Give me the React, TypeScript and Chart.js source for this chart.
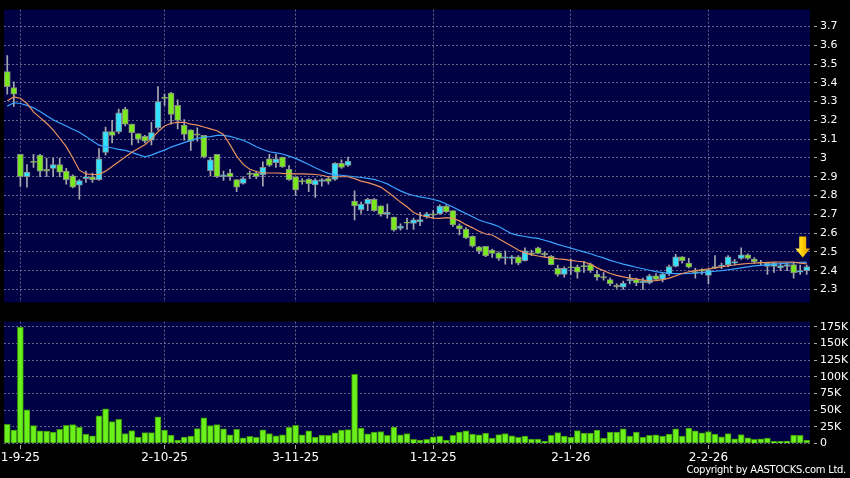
import React, { useEffect, useRef } from "react";
import { Chart, registerables } from "chart.js";
Chart.register(...registerables);

// ---------- data ----------
const opens = [
  3.46, 3.375, 3.02, 2.9, 2.982, 3.015, 2.94, 2.945, 2.965, 2.93,
  2.905, 2.855, 2.89, 2.9, 2.885, 3.03, 3.14, 3.14, 3.26, 3.18,
  3.13, 3.115, 3.095, 3.16, 3.323, 3.345, 3.28, 3.175, 3.15, 3.128,
  3.12, 2.932, 3.02, 2.9, 2.92, 2.885, 2.865, 2.918, 2.92, 2.91,
  2.995, 2.975, 3.005, 2.94, 2.9, 2.88, 2.886, 2.857, 2.875, 2.89,
  2.886, 2.972, 2.96, 2.77, 2.725, 2.755, 2.78, 2.745, 2.7, 2.685,
  2.625, 2.659, 2.652, 2.66, 2.688, 2.702, 2.704, 2.744, 2.72, 2.64,
  2.622, 2.583, 2.527, 2.53, 2.51, 2.495, 2.466, 2.465, 2.474, 2.453,
  2.495, 2.522, 2.492, 2.478, 2.412, 2.38, 2.42, 2.421, 2.427, 2.432,
  2.38, 2.368, 2.353, 2.323, 2.312, 2.346, 2.353, 2.335, 2.335, 2.373,
  2.354, 2.382, 2.423, 2.474, 2.44, 2.395, 2.404, 2.375, 2.413, 2.422,
  2.43, 2.44, 2.465, 2.484, 2.461, 2.446, 2.423, 2.423, 2.414, 2.422,
  2.432, 2.392, 2.4,
];
const highs = [
  3.545, 3.405, 3.02, 2.965, 3.02, 3.02, 3.0, 3.0, 3.0, 2.945,
  2.91, 2.885, 2.93, 2.92, 3.05, 3.165, 3.2, 3.26, 3.27, 3.18,
  3.13, 3.12, 3.19, 3.38, 3.34, 3.35, 3.31, 3.205, 3.15, 3.16,
  3.12, 3.005, 3.02, 2.93, 2.94, 2.885, 2.9, 2.93, 2.93, 2.98,
  3.02, 3.02, 3.005, 2.96, 2.9, 2.89, 2.89, 2.89, 2.89, 2.9,
  2.975, 2.99, 3.005, 2.825, 2.765, 2.785, 2.785, 2.745, 2.755, 2.685,
  2.65, 2.68, 2.68, 2.71, 2.71, 2.72, 2.75, 2.75, 2.72, 2.65,
  2.63, 2.585, 2.53, 2.53, 2.515, 2.5, 2.505, 2.48, 2.48, 2.522,
  2.51, 2.525, 2.5, 2.48, 2.43, 2.42, 2.46, 2.43, 2.45, 2.44,
  2.4, 2.39, 2.36, 2.33, 2.345, 2.38, 2.36, 2.36, 2.38, 2.385,
  2.39, 2.43, 2.487, 2.475, 2.465, 2.414, 2.41, 2.41, 2.48, 2.44,
  2.48, 2.46, 2.522, 2.49, 2.47, 2.455, 2.445, 2.445, 2.44, 2.44,
  2.44, 2.43, 2.43,
];
const lows = [
  3.34, 3.275, 2.85, 2.845, 2.95, 2.9, 2.9, 2.9, 2.9, 2.86,
  2.84, 2.78, 2.87, 2.87, 2.88, 3.015, 3.08, 3.13, 3.17, 3.07,
  3.08, 3.08, 3.07, 3.15, 3.28, 3.18, 3.155, 3.095, 3.04, 3.09,
  3.0, 2.905, 2.895, 2.88, 2.88, 2.82, 2.86, 2.89, 2.89, 2.85,
  2.955, 2.95, 2.95, 2.88, 2.8, 2.86, 2.82, 2.79, 2.85, 2.86,
  2.88, 2.945, 2.955, 2.67, 2.705, 2.72, 2.715, 2.69, 2.68, 2.61,
  2.615, 2.62, 2.62, 2.64, 2.68, 2.68, 2.7, 2.71, 2.635, 2.59,
  2.57, 2.525, 2.49, 2.475, 2.47, 2.455, 2.435, 2.435, 2.43, 2.45,
  2.48, 2.49, 2.475, 2.43, 2.37, 2.365, 2.38, 2.36, 2.39, 2.39,
  2.35, 2.35, 2.32, 2.305, 2.3, 2.33, 2.32, 2.3, 2.33, 2.35,
  2.34, 2.375, 2.42, 2.44, 2.415, 2.36, 2.38, 2.33, 2.41, 2.41,
  2.42, 2.43, 2.46, 2.46, 2.44, 2.43, 2.38, 2.39, 2.4, 2.4,
  2.36, 2.38, 2.38,
];
const closes = [
  3.38, 3.34, 2.9, 2.925, 2.976, 2.93, 2.93, 2.965, 2.925, 2.885,
  2.845, 2.88, 2.9, 2.885, 2.995, 3.14, 3.12, 3.24, 3.18, 3.135,
  3.1, 3.09, 3.135, 3.3, 3.317, 3.232, 3.2, 3.125, 3.09, 3.122,
  3.005, 2.99, 2.9, 2.91, 2.9, 2.845, 2.89, 2.912, 2.9, 2.95,
  2.96, 2.995, 2.952, 2.885, 2.83, 2.874, 2.863, 2.882, 2.885, 2.875,
  2.972, 2.95, 2.984, 2.745, 2.755, 2.78, 2.72, 2.7, 2.71, 2.615,
  2.638, 2.653, 2.67, 2.672, 2.703, 2.696, 2.744, 2.713, 2.643, 2.622,
  2.574, 2.531, 2.505, 2.479, 2.492, 2.465, 2.474, 2.474, 2.44, 2.505,
  2.488, 2.492, 2.485, 2.432, 2.38, 2.412, 2.414, 2.392, 2.421, 2.4,
  2.366, 2.362, 2.331, 2.314, 2.333, 2.355, 2.335, 2.346, 2.373, 2.354,
  2.382, 2.422, 2.474, 2.453, 2.418, 2.389, 2.397, 2.404, 2.422, 2.43,
  2.474, 2.449, 2.484, 2.465, 2.448, 2.44, 2.44, 2.44, 2.427, 2.432,
  2.388, 2.4, 2.422,
];
const ma10 = [
  3.305, 3.325, 3.318, 3.29, 3.245, 3.215, 3.185, 3.15, 3.105, 3.06,
  3.0, 2.935, 2.915, 2.912, 2.912, 2.93, 2.955, 2.98, 3.005, 3.03,
  3.05, 3.07, 3.1, 3.14, 3.17, 3.185, 3.19, 3.19, 3.18, 3.175,
  3.165, 3.155, 3.145, 3.125, 3.07, 3.01, 2.966, 2.94, 2.928, 2.92,
  2.92, 2.92, 2.918, 2.915, 2.915, 2.915, 2.914, 2.912, 2.908, 2.9,
  2.9, 2.9, 2.9, 2.89, 2.877, 2.869, 2.858, 2.845, 2.82, 2.793,
  2.765, 2.74, 2.71, 2.695, 2.687, 2.68, 2.678, 2.682, 2.678, 2.665,
  2.645, 2.628, 2.61, 2.595, 2.59, 2.57, 2.55, 2.53, 2.51, 2.495,
  2.485, 2.478, 2.472, 2.468, 2.463, 2.46, 2.455, 2.45, 2.446, 2.435,
  2.415, 2.4, 2.385, 2.375, 2.367, 2.36, 2.355, 2.35, 2.346, 2.347,
  2.352, 2.36, 2.372, 2.385, 2.394, 2.4, 2.405, 2.41, 2.415, 2.42,
  2.426, 2.43, 2.435, 2.438, 2.44, 2.442, 2.444, 2.445, 2.446, 2.446,
  2.445, 2.44, 2.436,
];
const ma20 = [
  3.276, 3.294, 3.29, 3.28, 3.267, 3.247, 3.225, 3.203, 3.186, 3.17,
  3.153, 3.137, 3.115, 3.09, 3.068, 3.06, 3.053, 3.046, 3.04, 3.03,
  3.018, 3.006, 3.015, 3.03, 3.042, 3.058, 3.07, 3.082, 3.094, 3.104,
  3.111, 3.114, 3.12, 3.12, 3.115, 3.105, 3.094, 3.078, 3.06, 3.045,
  3.033, 3.027, 3.021, 3.01, 2.998, 2.982, 2.965, 2.948, 2.932, 2.918,
  2.91, 2.908, 2.904, 2.9, 2.896, 2.891, 2.886, 2.875, 2.862, 2.843,
  2.825, 2.81, 2.8, 2.793, 2.787, 2.779, 2.77, 2.755, 2.739, 2.721,
  2.704, 2.687, 2.67, 2.658, 2.648, 2.635, 2.615, 2.597, 2.588, 2.582,
  2.576, 2.572, 2.562, 2.552, 2.54, 2.53, 2.52, 2.51, 2.5, 2.49,
  2.478, 2.468, 2.455, 2.445, 2.435, 2.427, 2.418, 2.41, 2.402, 2.395,
  2.39, 2.386, 2.384, 2.384, 2.385, 2.387, 2.39, 2.393, 2.397, 2.4,
  2.405, 2.41, 2.415, 2.42, 2.425, 2.428, 2.431, 2.434, 2.437, 2.44,
  2.442, 2.444, 2.445,
];
const volumes = [
  28500, 19700, 174600, 50200, 26600, 18600, 18200, 16700, 21100, 27000,
  28000, 24000, 13700, 11300, 41300, 51700, 32500, 35900, 14800, 19200,
  9300, 16200, 16200, 39800, 19700, 12300, 4900, 9300, 10800, 22100,
  38400, 26600, 28000, 21600, 12700, 21100, 8300, 10300, 8800, 20100,
  14800, 11300, 12700, 24000, 27000, 12700, 18600, 9300, 12300, 11800,
  15700, 19700, 20600, 103700, 23000, 14300, 16700, 17700, 11800, 24500,
  12700, 14800, 5900, 4900, 5900, 9800, 10800, 4900, 11800, 16700,
  18600, 13700, 12700, 15200, 7800, 13300, 14800, 11300, 8800, 10800,
  6400, 6400, 2900, 11800, 16200, 10800, 9300, 19200, 15200, 15200,
  19700, 7800, 16700, 16700, 21600, 10800, 16700, 9300, 11800, 12700,
  10800, 13700, 21600, 10800, 23000, 18600, 15700, 17700, 13700, 9800,
  14800, 6800, 13300, 8300, 5900, 6800, 7800, 2900, 2900, 3300,
  12300, 11800, 4900,
];
const priceTicks = [2.3, 2.4, 2.5, 2.6, 2.7, 2.8, 2.9, 3.0, 3.1, 3.2, 3.3, 3.4, 3.5, 3.6, 3.7];
const volumeTicks = [0, 25000, 50000, 75000, 100000, 125000, 150000, 175000];
const xTickIndex = [2, 24, 44, 65, 86, 107];
const xTickText = ["1-9-25", "2-10-25", "3-11-25", "1-12-25", "2-1-26", "2-2-26"];
const priceMin = 2.231;
const priceMax = 3.79;
const volumeMax = 183000;
const arrowIndex = 122;
const arrowPrice = 2.47;

// ---------- styles ----------
const FONT = "'DejaVu Sans', Verdana, sans-serif";
const NAVY = "#000044";
const GRID = "rgba(150,150,175,0.65)";
const UP = "#33e0ff";
const DOWN = "#7ae81e";

const labels = volumes.map((_, i) => {
  const t = xTickIndex.indexOf(i);
  return t >= 0 ? xTickText[t] : "";
});

const plotBg = {
  id: "plotBg",
  beforeDraw(chart: any) {
    const { ctx, chartArea: a } = chart;
    ctx.save();
    ctx.fillStyle = NAVY;
    ctx.fillRect(a.left, a.top, a.right - a.left, a.bottom - a.top);
    ctx.restore();
  },
};

const arrowPlugin = {
  id: "arrowMark",
  afterDatasetsDraw(chart: any) {
    const x = chart.scales.x.getPixelForValue(arrowIndex) - 4;
    const tip = chart.scales.y.getPixelForValue(arrowPrice);
    const ctx = chart.ctx;
    ctx.save();
    const g = ctx.createLinearGradient(x - 8, 0, x + 8, 0);
    g.addColorStop(0, "#fff07a");
    g.addColorStop(0.45, "#ffd000");
    g.addColorStop(1, "#e09000");
    ctx.fillStyle = g;
    ctx.beginPath();
    ctx.moveTo(x - 3.5, tip - 21);
    ctx.lineTo(x + 3.5, tip - 21);
    ctx.lineTo(x + 3.5, tip - 9);
    ctx.lineTo(x + 7.5, tip - 9);
    ctx.lineTo(x, tip);
    ctx.lineTo(x - 7.5, tip - 9);
    ctx.lineTo(x - 3.5, tip - 9);
    ctx.closePath();
    ctx.fill();
    ctx.restore();
  },
};

function xScale(showLabels: boolean) {
  return {
    type: "category",
    offset: true,
    grid: {
      offset: false,
      drawOnChartArea: true,
      drawTicks: showLabels,
      color: (c: any) => (xTickIndex.includes(c.index) ? GRID : "rgba(0,0,0,0)"),
      tickColor: (c: any) => (xTickIndex.includes(c.index) ? "#aaaaaa" : "rgba(0,0,0,0)"),
      tickLength: 6,
      tickBorderDash: [0, 2, 4, 20],
      lineWidth: 1,
    },
    border: { display: false, dash: [2, 2] },
    ticks: {
      display: showLabels,
      autoSkip: false,
      maxRotation: 0,
      minRotation: 0,
      padding: 1,
      color: "#ffffff",
      font: { family: FONT, size: 12 },
      callback: (_v: any, i: number) => labels[i],
    },
    afterFit: (s: any) => {
      s.height = showLabels ? 22 : 0;
    },
  };
}

function yRight(min: number, max: number, tickVals: number[], fmt: (v: number) => string) {
  return {
    position: "right",
    min,
    max,
    afterBuildTicks: (s: any) => {
      s.ticks = tickVals.map((v) => ({ value: v }));
    },
    grid: {
      color: GRID,
      tickColor: "#aaaaaa",
      tickLength: 7,
      tickBorderDash: [0, 4, 3, 30],
      lineWidth: 1,
    },
    border: { display: false, dash: [2, 2] },
    ticks: {
      color: "#ffffff",
      padding: 3,
      font: { family: FONT, size: 11 },
      callback: (v: any) => fmt(Number(v)),
    },
    afterFit: (s: any) => {
      s.width = 40;
    },
  };
}

function PriceChart() {
  const ref = useRef<HTMLCanvasElement>(null);
  useEffect(() => {
    const bodies = opens.map((o, i) => [o, closes[i]]);
    const wicks = lows.map((l, i) => [l, highs[i]]);
    const colors = opens.map((o, i) => (closes[i] >= o ? UP : DOWN));
    const chart = new Chart(ref.current as HTMLCanvasElement, {
      type: "bar",
      data: {
        labels,
        datasets: [
          {
            type: "line",
            data: ma10,
            borderColor: "#e8925e",
            borderWidth: 1.2,
            pointRadius: 0,
            tension: 0,
            order: 0,
          } as any,
          {
            type: "line",
            data: ma20,
            borderColor: "#3aa4ff",
            borderWidth: 1.2,
            pointRadius: 0,
            tension: 0,
            order: 0,
          } as any,
          {
            type: "bar",
            data: bodies,
            backgroundColor: colors,
            borderColor: "#8a8a8a",
            borderWidth: 1,
            borderSkipped: false,
            barThickness: 6,
            grouped: false,
            order: 1,
          } as any,
          {
            type: "bar",
            data: wicks,
            backgroundColor: "#a8a8b0",
            borderWidth: 0,
            barThickness: 1,
            grouped: false,
            order: 2,
          } as any,
        ],
      },
      options: {
        responsive: false,
        animation: false,
        layout: { padding: { left: 4, right: 0, top: 6, bottom: 6 } },
        plugins: { legend: { display: false }, tooltip: { enabled: false } },
        scales: {
          x: xScale(false) as any,
          y: yRight(priceMin, priceMax, priceTicks, (v) => String(Number(v.toFixed(1)))) as any,
        },
      },
      plugins: [plotBg, arrowPlugin],
    });
    return () => chart.destroy();
  }, []);
  return <canvas ref={ref} width={850} height={312} style={{ display: "block" }} />;
}

function VolumeChart() {
  const ref = useRef<HTMLCanvasElement>(null);
  useEffect(() => {
    const chart = new Chart(ref.current as HTMLCanvasElement, {
      type: "bar",
      data: {
        labels,
        datasets: [
          {
            data: volumes,
            backgroundColor: "#6af01a",
            borderColor: "#3b8f0c",
            borderWidth: 1,
            borderSkipped: "bottom",
            barThickness: 6,
          },
        ],
      },
      options: {
        responsive: false,
        animation: false,
        layout: { padding: { left: 4, right: 0, top: 7.3, bottom: 12.7 } },
        plugins: { legend: { display: false }, tooltip: { enabled: false } },
        scales: {
          x: xScale(true) as any,
          y: yRight(0, volumeMax, volumeTicks, (v) => (v === 0 ? "0" : `${v / 1000}K`)) as any,
        },
      },
      plugins: [plotBg],
    });
    return () => chart.destroy();
  }, []);
  return <canvas ref={ref} width={850} height={166} style={{ display: "block" }} />;
}

export default function App() {
  return (
    <div
      style={{
        position: "fixed",
        left: 0,
        top: 0,
        width: 850,
        height: 478,
        background: "#000000",
        overflow: "hidden",
      }}
    >
      <div style={{ position: "absolute", left: 0, top: 0 }}>
        <PriceChart />
      </div>
      <div style={{ position: "absolute", left: 0, top: 312 }}>
        <VolumeChart />
      </div>
      <div
        style={{
          position: "absolute",
          right: 4,
          top: 464,
          color: "#ffffff",
          fontFamily: FONT,
          fontSize: 10,
          letterSpacing: "-0.3px",
          lineHeight: "12px",
          whiteSpace: "nowrap",
        }}
      >
        Copyright by AASTOCKS.com Ltd.
      </div>
    </div>
  );
}
